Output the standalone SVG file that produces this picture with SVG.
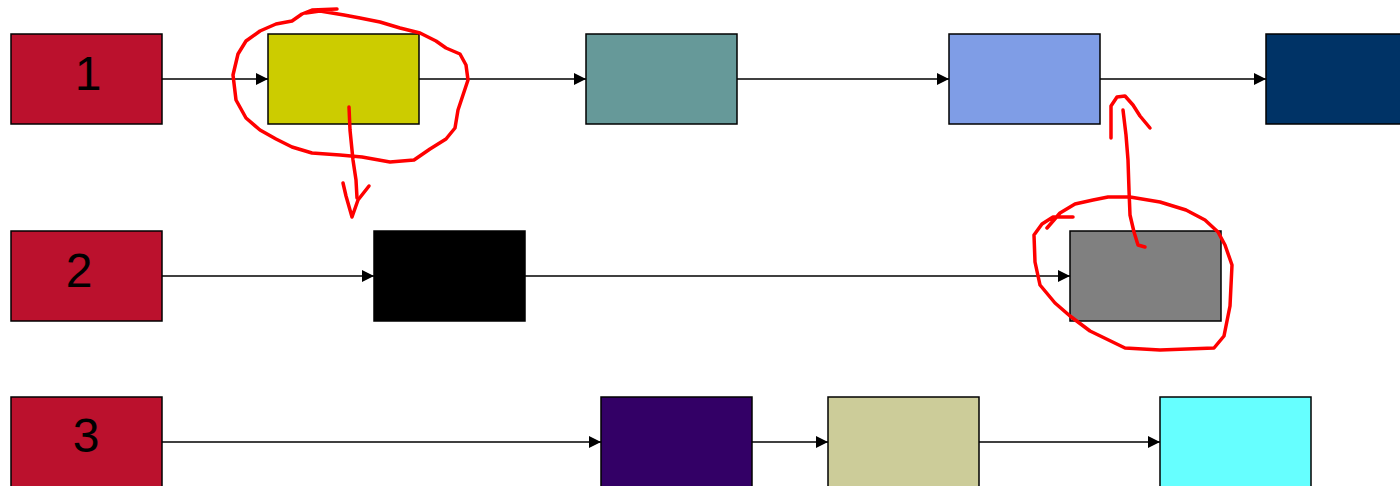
<svg xmlns="http://www.w3.org/2000/svg" width="1400" height="486" viewBox="0 0 1400 486">
  <style>
    .box { stroke: #000; stroke-width: 1.5; }
    .label { font-family: "Liberation Sans", Arial, sans-serif; font-size: 48px; fill: #000; text-anchor: middle; }
    .link { stroke: #000; stroke-width: 1.5; fill: none; marker-end: url(#tip); }
    .ink { stroke: #ff0000; stroke-width: 3.5; fill: none; stroke-linecap: round; stroke-linejoin: round; }
  </style>
  <defs>
    <marker id="tip" viewBox="0 0 12 12" refX="12" refY="6" markerWidth="12" markerHeight="12" markerUnits="userSpaceOnUse" orient="auto">
      <path d="M0,0 L12,6 L0,12 Z" fill="#000"/>
    </marker>
  </defs>
  <rect width="1400" height="486" fill="#fff"/>

  <g id="connectors">
    <line class="link" x1="162" y1="79" x2="268" y2="79"/>
    <line class="link" x1="419" y1="79" x2="586" y2="79"/>
    <line class="link" x1="737" y1="79" x2="949" y2="79"/>
    <line class="link" x1="1100" y1="79" x2="1266" y2="79"/>
    <line class="link" x1="162" y1="276" x2="374" y2="276"/>
    <line class="link" x1="525" y1="276" x2="1070" y2="276"/>
    <line class="link" x1="162" y1="442" x2="601" y2="442"/>
    <line class="link" x1="752" y1="442" x2="828" y2="442"/>
    <line class="link" x1="979" y1="442" x2="1160" y2="442"/>
  </g>

  <!-- row 1 -->
  <g id="row1-start"><rect class="box" x="11" y="34" width="151" height="90" fill="#bb112d"/><text class="label" x="88" y="90">1</text></g>
  <g id="row1-a"><rect class="box" x="268" y="34" width="151" height="90" fill="#cccc00"/></g>
  <g id="row1-b"><rect class="box" x="586" y="34" width="151" height="90" fill="#669999"/></g>
  <g id="row1-c"><rect class="box" x="949" y="34" width="151" height="90" fill="#7f9de6"/></g>
  <g id="row1-d"><rect class="box" x="1266" y="34" width="151" height="90" fill="#003366"/></g>

  <!-- row 2 -->
  <g id="row2-start"><rect class="box" x="11" y="231" width="151" height="90" fill="#bb112d"/><text class="label" x="79" y="287">2</text></g>
  <g id="row2-a"><rect class="box" x="374" y="231" width="151" height="90" fill="#000000"/></g>
  <g id="row2-b"><rect class="box" x="1070" y="231" width="151" height="90" fill="#808080"/></g>

  <!-- row 3 -->
  <g id="row3-start"><rect class="box" x="11" y="397" width="151" height="100" fill="#bb112d"/><text class="label" x="86" y="452">3</text></g>
  <g id="row3-a"><rect class="box" x="601" y="397" width="151" height="100" fill="#330066"/></g>
  <g id="row3-b"><rect class="box" x="828" y="397" width="151" height="100" fill="#cccc99"/></g>
  <g id="row3-c"><rect class="box" x="1160" y="397" width="151" height="100" fill="#66ffff"/></g>

  <!-- freehand markup -->
  <g id="markup">
    <path class="ink" d="M337,9 L312,10 L302,14 L292,21 L276,24 L260,31 L246,41 L238,54 L233,75 L236,100 L246,118 L260,130 L276,139 L292,147 L312,153 L340,155 L362,157 L390,162 L414,160 L430,149 L446,139 L455,128 L458,110 L463,95 L468,80 L466,65 L460,54 L446,48 L436,41 L420,33 L400,28 L380,22 L360,18 L344,15 L320,11 L306,13"/>
    <path class="ink" d="M349,107 L350,130 L353,160 L356,180 L357,198"/>
    <path class="ink" d="M343,183 L346,196 L352,217 L358,200 L369,186"/>
    <path class="ink" d="M1073,217 L1053,217 L1042,224 L1034,235 L1035,262 L1040,285 L1055,303 L1070,316 L1090,331 L1125,348 L1160,350 L1214,348 L1224,336 L1230,306 L1232,265 L1225,245 L1218,232 L1205,220 L1186,210 L1160,202 L1130,197 L1108,197 L1093,200 L1075,204 L1060,213 L1047,228"/>
    <path class="ink" d="M1145,247 L1138,245 L1134,232 L1130,215 L1129,190 L1128,160 L1126,135 L1123,110"/>
    <path class="ink" d="M1111,138 L1111,106 L1117,97 L1125,96 L1133,105 L1140,116 L1150,128"/>
  </g>
</svg>
